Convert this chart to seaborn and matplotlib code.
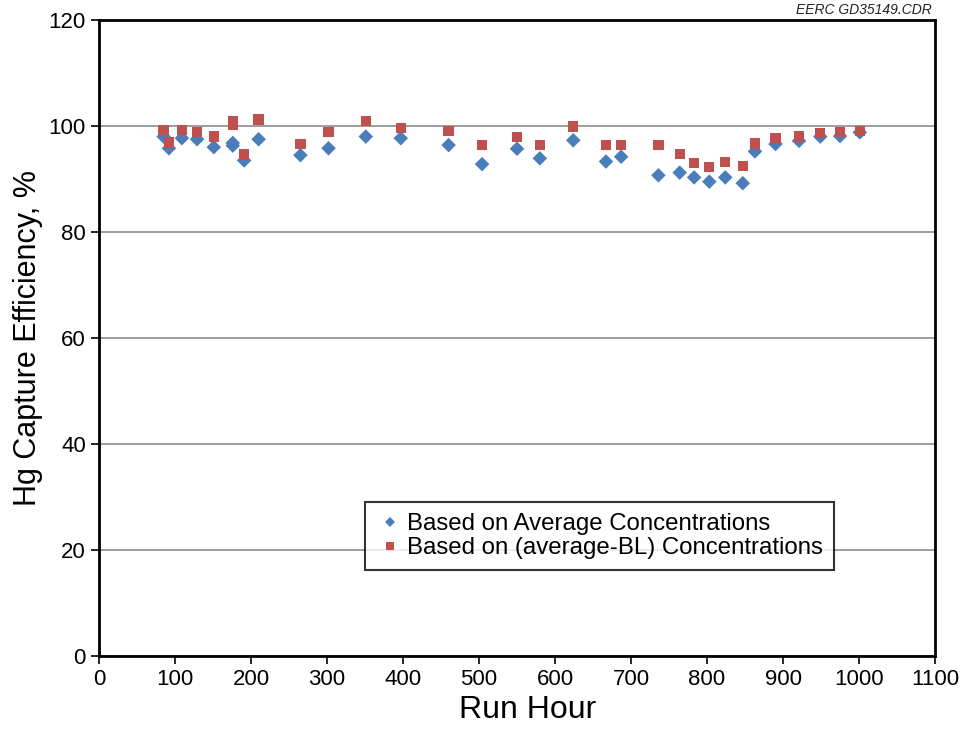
import numpy as np
import pandas as pd
import seaborn as sns
import matplotlib.pyplot as plt

# run hours and capture efficiencies
hours_avg = [85, 92, 109, 129, 151, 176, 176, 191, 210, 265, 302, 351, 397, 460, 504,
             550, 580, 624, 667, 687, 736, 764, 783, 803, 824, 847, 863, 890, 921,
             949, 975, 1001]
eff_avg = [98.0, 95.8, 97.7, 97.5, 96.0, 96.3, 96.8, 93.5, 97.5, 94.5, 95.8, 98.0, 97.7,
           96.4, 92.8, 95.7, 93.9, 97.3, 93.3, 94.2, 90.7, 91.2, 90.3, 89.5, 90.3,
           89.2, 95.2, 96.6, 97.2, 98.0, 98.1, 98.8]

hours_bl = [85, 92, 109, 129, 151, 176, 176, 191, 210, 265, 302, 351, 397, 460, 504,
            550, 580, 624, 667, 687, 736, 764, 783, 803, 824, 847, 863, 890, 921,
            949, 975, 1001]
eff_bl = [99.2, 96.9, 99.2, 98.9, 98.0, 101.0, 100.3, 94.6, 101.2, 96.6, 98.9, 100.9,
          99.6, 99.1, 96.4, 97.9, 96.4, 99.9, 96.4, 96.4, 96.4, 94.7, 93.0, 92.3,
          93.2, 92.5, 96.7, 97.7, 98.0, 98.7, 98.9, 99.1]

label_avg = 'Based on Average Concentrations'
label_bl = 'Based on (average-BL) Concentrations'

df = pd.concat([
    pd.DataFrame({'hour': hours_avg, 'eff': eff_avg, 'series': label_avg}),
    pd.DataFrame({'hour': hours_bl, 'eff': eff_bl, 'series': label_bl}),
])

sns.set_style('white')
plt.rcParams['font.family'] = ['Liberation Sans', 'DejaVu Sans']

fig = plt.figure(figsize=(9.63, 7.32), dpi=100)
ax = fig.add_axes([0.1028, 0.1038, 0.8682, 0.8689])

ax.yaxis.grid(True, color='#8c8c8c', linewidth=1.2)
ax.set_axisbelow(True)

sns.scatterplot(data=df, x='hour', y='eff', hue='series', style='series',
                palette={label_avg: '#4a7ebb', label_bl: '#c0504d'},
                markers={label_avg: 'D', label_bl: 's'},
                s=55, linewidth=0, ax=ax, zorder=3)

ax.set_xlim(0, 1100)
ax.set_ylim(0, 120)
ax.set_xticks(np.arange(0, 1101, 100))
ax.set_yticks(np.arange(0, 121, 20))
ax.tick_params(axis='both', direction='out', length=6, width=1.2, labelsize=16,
               bottom=True, left=True, color='black', labelcolor='black')
for sp in ax.spines.values():
    sp.set_color('black')
    sp.set_linewidth(2)

ax.set_xlabel('Run Hour', fontsize=23, color='black', labelpad=4)
ax.xaxis.set_label_coords(0.513, -0.062)
ax.set_ylabel('Hg Capture Efficiency, %', fontsize=22, color='black', labelpad=4)

leg = ax.legend(loc='lower left', bbox_to_anchor=(0.318, 0.135), fontsize=17.3,
                frameon=True, fancybox=False, handletextpad=0.1, borderpad=0.45,
                labelspacing=0.1, markerscale=0.75, borderaxespad=0,
                handlelength=1.2)
leg.get_frame().set_edgecolor('black')
leg.get_frame().set_linewidth(1.5)
for t in leg.get_texts():
    t.set_color('black')

fig.text(0.968, 0.977, 'EERC GD35149.CDR', ha='right', va='bottom', fontsize=10,
         style='italic', color='#222222')

fig.savefig('out.png', dpi=100)
